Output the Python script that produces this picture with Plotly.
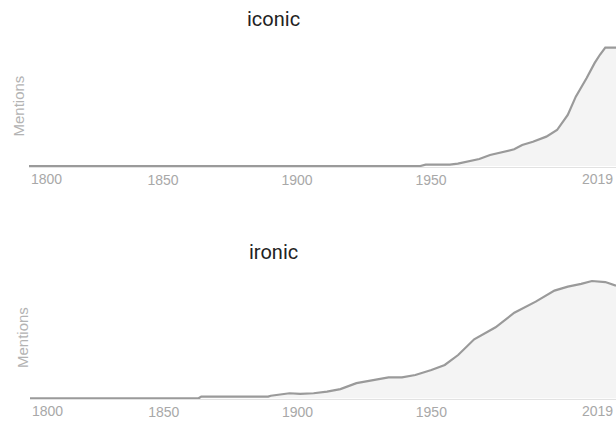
import plotly.graph_objects as go

# ---- data (relative mention frequency, peak = 100) ----
iconic_years = [1800, 1946, 1948, 1957, 1960, 1963, 1968, 1972, 1976, 1981,
                1984, 1988, 1993, 1997, 2001, 2004, 2008, 2011, 2013, 2015, 2019]
iconic_vals = [0, 0, 1.2, 1.2, 2.0, 3.6, 5.9, 9.3, 11.2, 14.1,
               17.8, 20.5, 24.8, 30.4, 43.1, 58.6, 74.2, 86.9, 94.0, 100, 100]

ironic_years = [1800, 1863, 1864, 1889, 1890, 1897, 1901, 1906, 1911, 1916,
                1922, 1930, 1934, 1939, 1944, 1950, 1955, 1960, 1966, 1974,
                1981, 1989, 1996, 2001, 2006, 2010, 2015, 2019]
ironic_vals = [0, 0, 1.4, 1.4, 2.2, 4.3, 3.7, 4.3, 5.7, 7.8,
               12.9, 16.6, 17.9, 17.9, 19.9, 24.1, 28.4, 36.9, 50.3, 60.5,
               73.0, 82.4, 91.8, 95.2, 97.5, 100, 99.1, 96.0]

titles = ["iconic", "ironic"]
tick_years = [1850, 1900, 1950]
x_start, x_end = 1800, 2019

W, H = 616, 423
LINE = "#9a9a9a"
FILL = "#f4f4f4"
TICK = "#a8a8a8"
SANS = "Liberation Sans, Arial, sans-serif"

fig = go.Figure()

fig.add_trace(go.Scatter(x=iconic_years, y=iconic_vals, mode="lines",
                         line=dict(color=LINE, width=2.2), fill="tozeroy",
                         fillcolor=FILL, xaxis="x", yaxis="y", hoverinfo="skip"))
fig.add_trace(go.Scatter(x=ironic_years, y=ironic_vals, mode="lines",
                         line=dict(color=LINE, width=2.2), fill="tozeroy",
                         fillcolor=FILL, xaxis="x2", yaxis="y2", hoverinfo="skip"))

def py(p):
    return 1 - p / H

axis_common = dict(range=[x_start, x_end], showgrid=False, zeroline=False,
                   tickvals=tick_years, ticktext=[str(t) for t in tick_years],
                   ticks="", tickfont=dict(family=SANS, size=14, color=TICK),
                   showline=True, linecolor="#e2e2e2", linewidth=1, fixedrange=True)
yaxis_common = dict(showgrid=False, zeroline=False, showticklabels=False,
                    ticks="", showline=False, fixedrange=True)

fig.update_layout(
    width=W, height=H,
    margin=dict(l=0, r=0, t=0, b=0),
    paper_bgcolor="white", plot_bgcolor="white",
    showlegend=False,
    xaxis=dict(domain=[29 / W, 1], anchor="y", **axis_common),
    yaxis=dict(domain=[py(167), py(46)], range=[-0.85, 101.4], anchor="x", **yaxis_common),
    xaxis2=dict(domain=[30 / W, 1], anchor="y2", **axis_common),
    yaxis2=dict(domain=[py(399.3), py(279)], range=[-0.85, 101.7], anchor="x2", **yaxis_common),
)

annotations = []
# titles
for t, yc in zip(titles, [19, 252]):
    annotations.append(dict(text=t, x=273 / W, y=py(yc), xref="paper", yref="paper",
                            xanchor="center", yanchor="middle", showarrow=False,
                            font=dict(family="Roboto", size=20, color="#222222")))
# y-axis labels
for yc, xc in zip([106, 338], [18.5, 22]):
    annotations.append(dict(text="Mentions", x=xc / W, y=py(yc), xref="paper", yref="paper",
                            xanchor="center", yanchor="middle", showarrow=False, textangle=-90,
                            font=dict(family=SANS, size=15, color="#b3b3b3")))
# edge tick labels (first/last year), aligned inside the plot edges
for xr, yc in zip(["x", "x2"], [179, 411]):
    annotations.append(dict(text=str(x_start), x=x_start, xref=xr, y=py(yc), yref="paper",
                            xanchor="left", yanchor="middle", showarrow=False,
                            font=dict(family=SANS, size=14, color=TICK)))
    annotations.append(dict(text=str(x_end), x=x_end, xref=xr, y=py(yc), yref="paper",
                            xanchor="right", yanchor="middle", showarrow=False, xshift=-1,
                            font=dict(family=SANS, size=14, color=TICK)))
fig.update_layout(annotations=annotations)

fig.write_html("out.html", config={"displayModeBar": False},
               post_script="document.body.style.margin='0';document.body.style.overflow='hidden';")
